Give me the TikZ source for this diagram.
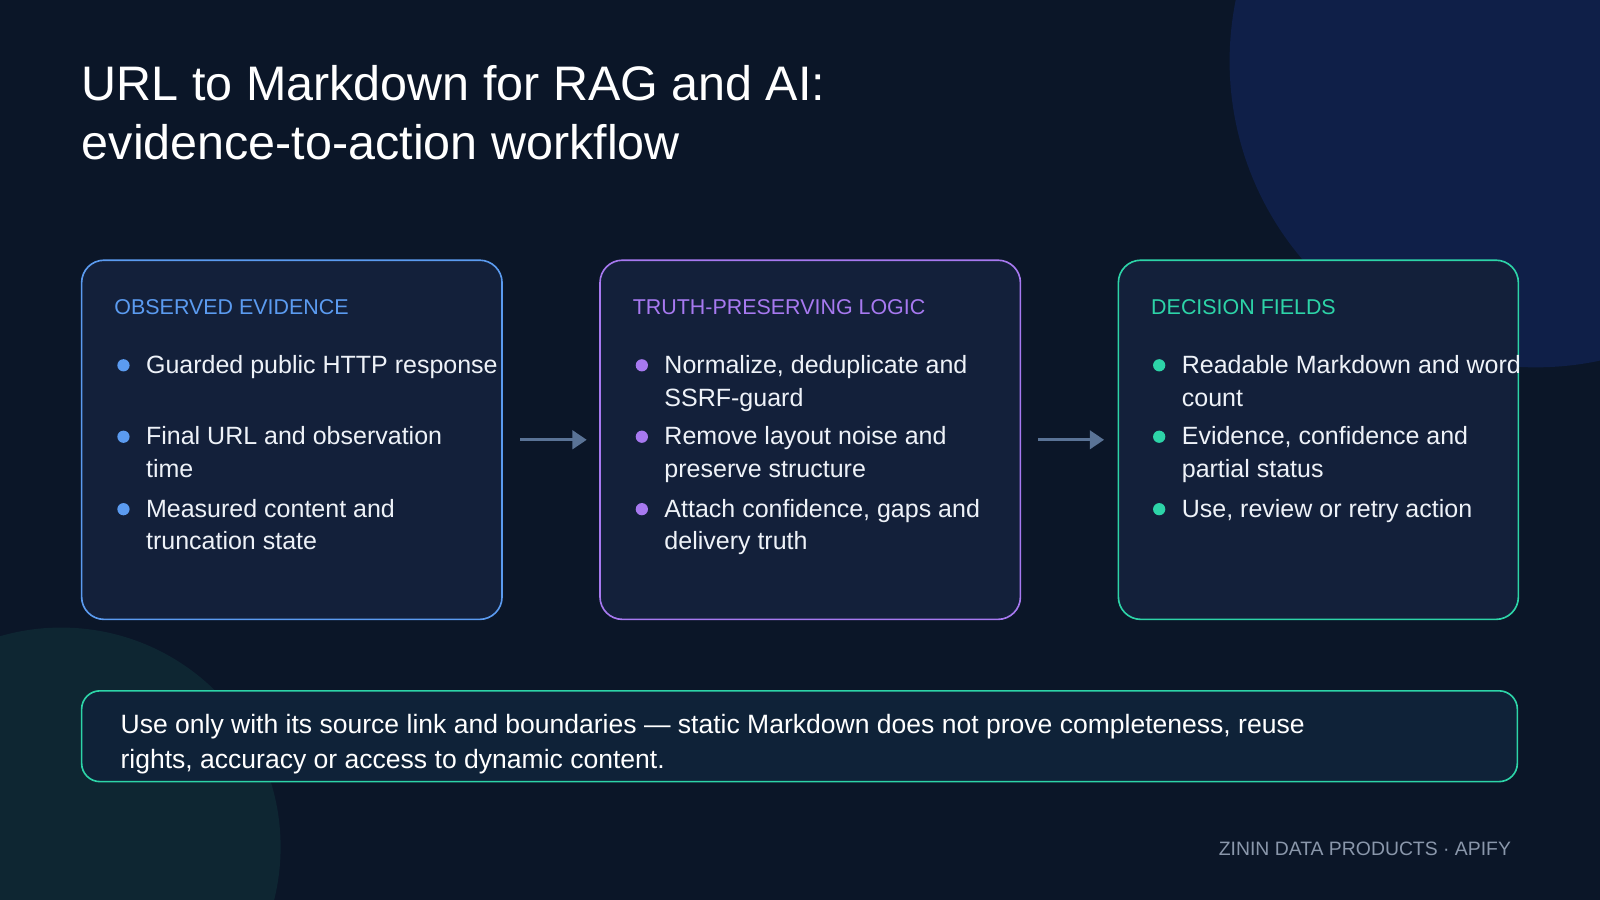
\documentclass[tikz,border=0pt]{standalone}
\usepackage{fontspec}
\setmainfont{Liberation Sans}
\usetikzlibrary{arrows.meta}
\definecolor{bg}{HTML}{0B1628}
\definecolor{boxfill}{HTML}{13203A}
\definecolor{cblue}{HTML}{5B9BF0}
\definecolor{cpurp}{HTML}{A779F0}
\definecolor{cteal}{HTML}{2DD4A8}
\definecolor{arr}{HTML}{5A7396}
\definecolor{foot}{HTML}{8A97AB}
\definecolor{txt}{HTML}{EEF2F8}
\definecolor{circb}{HTML}{0F1F48}
\definecolor{circt}{HTML}{0E2632}
\definecolor{notefill}{HTML}{0F2238}
\begin{document}
\begin{tikzpicture}[x=1pt,y=-1pt,
  card/.style={draw,line width=1.6pt,rounded corners=22pt,fill=boxfill},
  head/.style={anchor=base west,font=\fontsize{21}{24}\selectfont,inner sep=0},
  item/.style={anchor=north west,align=left,text=txt,font=\fontsize{24.5}{32}\selectfont,inner sep=0},
  dot/.style={circle,inner sep=0,minimum size=12pt},
  flow/.style={draw=arr,line width=3pt,-{Triangle[length=14pt,width=18pt]}}]
\useasboundingbox (0,0) rectangle (1568,882);
\fill[bg] (0,0) rectangle (1568,882);
\begin{scope}
\clip (0,0) rectangle (1568,882);
\fill[circb] (1505,60) circle (300);
\fill[circt] (60,830) circle (215);
\end{scope}
\node[anchor=north west,align=left,text=white,inner sep=0,font=\fontsize{47.5}{58}\selectfont] (title) at (80,64) {URL to Markdown for RAG and AI:\\evidence-to-action workflow};

\draw[card,draw=cblue] (80,255) rectangle (492,607);
\draw[card,draw=cpurp] (588,255) rectangle (1000,607);
\draw[card,draw=cteal] (1096,255) rectangle (1488,607);

\node[head,text=cblue] (h1) at (112,308) {OBSERVED EVIDENCE};
\node[head,text=cpurp] (h2) at (620,308) {TRUTH-PRESERVING LOGIC};
\node[head,text=cteal] (h3) at (1128,308) {DECISION FIELDS};

\foreach \y/\t [count=\i] in {358/Guarded public HTTP response,428/{Final URL and observation\\time},499/{Measured content and\\truncation state}}{
  \node[dot,fill=cblue] (d1\i) at (121,\y) {};
  \node[item] (t1\i) at (143,\y-10) {\t};}
\foreach \y/\t [count=\i] in {358/{Normalize, deduplicate and\\SSRF-guard},428/{Remove layout noise and\\preserve structure},499/{Attach confidence, gaps and\\delivery truth}}{
  \node[dot,fill=cpurp] (d2\i) at (629,\y) {};
  \node[item] (t2\i) at (651,\y-10) {\t};}
\foreach \y/\t [count=\i] in {358/{Readable Markdown and word\\count},428/{Evidence, confidence and\\partial status},499/{Use, review or retry action}}{
  \node[dot,fill=cteal] (d3\i) at (1136,\y) {};
  \node[item] (t3\i) at (1158,\y-10) {\t};}

\coordinate (a1s) at (510,431); \coordinate (a1e) at (575,431);
\coordinate (a2s) at (1017,431); \coordinate (a2e) at (1082,431);
\draw[flow] (a1s) -- (a1e);
\draw[flow] (a2s) -- (a2e);

\draw[line width=1.6pt,draw=cteal,fill=notefill,rounded corners=18pt] (80,677) rectangle (1487,766);
\node[item,text=white,font=\fontsize{26}{34}\selectfont] (note) at (118,700) {Use only with its source link and boundaries — static Markdown does not prove completeness, reuse\\rights, accuracy or access to dynamic content.};

\node[anchor=base east,text=foot,inner sep=0,font=\fontsize{19}{22}\selectfont] (footer) at (1481,838) {ZININ DATA PRODUCTS · APIFY};
\end{tikzpicture}
\end{document}
